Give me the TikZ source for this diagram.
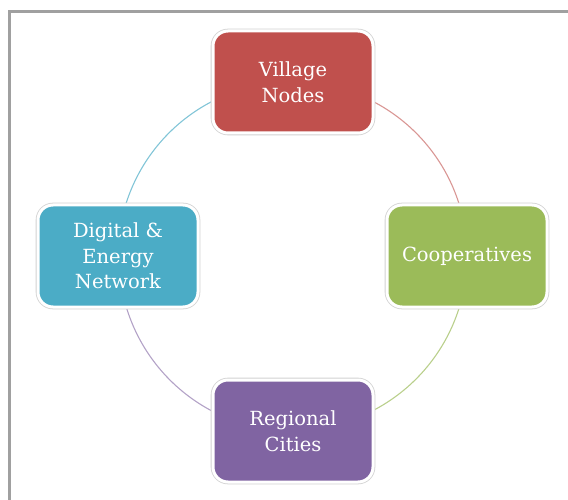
\documentclass[tikz,border=0pt]{standalone}
\usepackage{fontspec}
\setmainfont{DejaVu Serif}
\usetikzlibrary{backgrounds}
\definecolor{cred}{HTML}{C0504D}
\definecolor{cgreen}{HTML}{9BBB59}
\definecolor{cblue}{HTML}{4BACC6}
\definecolor{cpurple}{HTML}{8064A2}
\definecolor{framegray}{HTML}{A0A0A0}
\begin{document}
\begin{tikzpicture}[x=1pt,y=1pt,
  box/.style={rectangle, rounded corners=15pt, minimum width=160pt, minimum height=102pt,
    inner sep=0pt, align=center, text=white, font=\fontsize{19.5}{25.5}\selectfont,
    draw=white, line width=3pt, preaction={draw=black!18, line width=4.6pt}},
  arcline/.style={line width=1.1pt}]
\useasboundingbox (0,0) rectangle (568,499);
\draw[framegray, line width=3.2pt] (9.5,-5) -- (9.5,487.5) -- (575,487.5);
\node[box, fill=cred] (v) at (293,417) {Village\\Nodes};
\node[box, fill=cgreen] (c) at (467,243) {Cooperatives};
\node[box, fill=cpurple] (r) at (293,68) {Regional\\Cities};
\node[box, fill=cblue] (d) at (118,243) {Digital \&\\Energy\\Network};
\begin{pgfonlayer}{background}
\draw[arcline, cred!60] (v.center) arc[start angle=90, end angle=0, radius=174];
\draw[arcline, cgreen!70] (c.center) arc[start angle=0, end angle=-90, radius=174];
\draw[arcline, cpurple!60] (r.center) arc[start angle=270, end angle=180, radius=174];
\draw[arcline, cblue!70] (d.center) arc[start angle=180, end angle=90, radius=174];
\end{pgfonlayer}
\end{tikzpicture}
\end{document}
